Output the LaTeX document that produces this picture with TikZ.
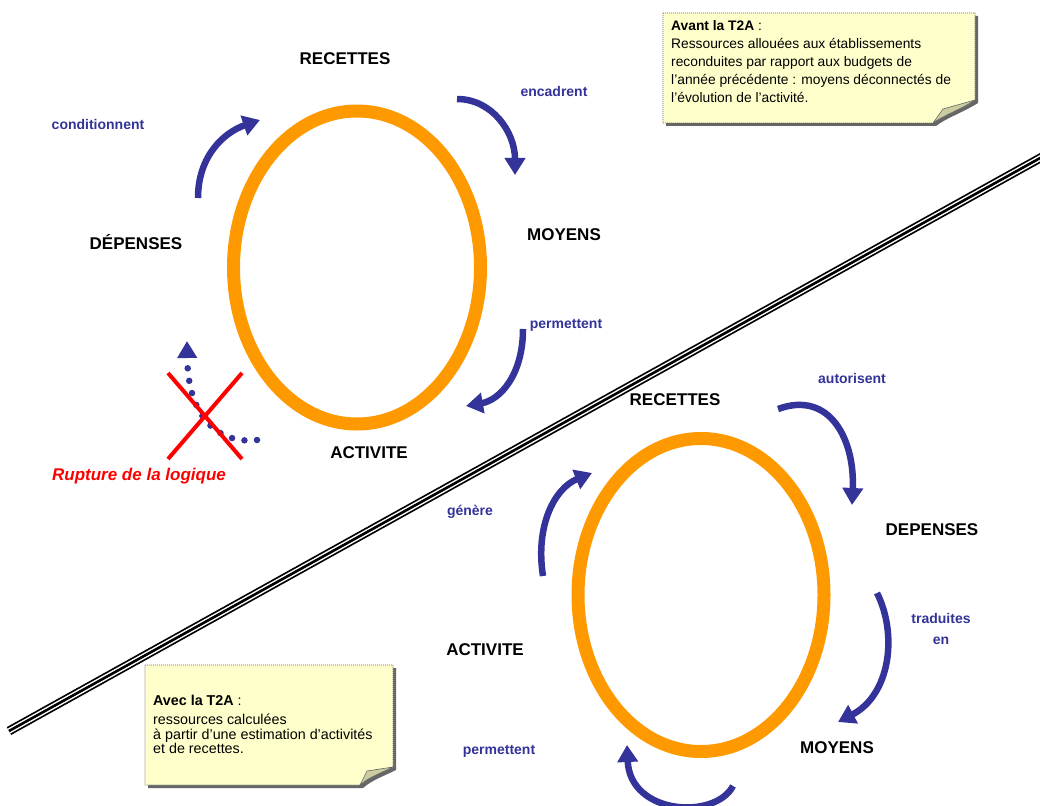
\documentclass[tikz,border=0pt]{standalone}
\usepackage{fontspec}
\setmainfont{Liberation Sans}
\usetikzlibrary{arrows.meta}
\definecolor{ringorange}{RGB}{255,153,0}
\definecolor{flowblue}{RGB}{51,51,153}
\definecolor{noteyellow}{RGB}{255,255,204}
\definecolor{flapfill}{RGB}{204,204,160}
\begin{document}
\begin{tikzpicture}[x=1pt,y=-1pt,
  lab/.style={font=\fontsize{17}{20}\selectfont\bfseries, inner sep=0pt, anchor=base},
  verb/.style={font=\fontsize{14}{21}\selectfont\bfseries, text=flowblue, inner sep=0pt, anchor=base},
  flow/.style={draw=flowblue, line width=6.5pt, -{Triangle[length=17pt,width=20pt]}},
  ring/.style={draw=ringorange, line width=13pt},
  notebox/.style={fill=noteyellow, draw=black!60, line width=0.6pt, dash pattern=on 1pt off 1pt},
  noteshadow/.style={fill=black!60},
  flap/.style={fill=flapfill, draw=black!60, line width=0.6pt},
  notetext/.style={inner sep=0pt, anchor=north west, align=left},
  cross/.style={draw=red, line width=4pt},
]
\useasboundingbox (0,0) rectangle (1040,805);
\fill[white] (0,0) rectangle (1040,805);
\clip (0,0) rectangle (1040,805);

% ---------- separating line ----------
\coordinate (dl) at (9,731);
\coordinate (dr) at (1060,147);
\draw[line width=9pt] (dl) -- (dr);
\draw[white, line width=5.5pt] (dl) -- (dr);
\draw[line width=2.6pt] (dl) -- (dr);

% ---------- top note ----------
\path[noteshadow] (666,16) -- (978,16) -- (978,103) .. controls (962,113) and (946,118) .. (936,126) -- (666,126) -- cycle;
\path[notebox] (663,13) -- (975,13) -- (975,100) .. controls (960,110) and (944,115) .. (933,123) -- (663,123) -- cycle;
\path[flap] (933,123) -- (943,109) -- (975,100) .. controls (960,110) and (944,115) .. (933,123) -- cycle;
\node[notetext, font=\fontsize{13.8}{18}\selectfont] (avant) at (671,20.5)
  {\textbf{Avant la T2A} :\\
   Ressources allouées aux établissements\\
   reconduites par rapport aux budgets de\\
   l’année précédente : moyens déconnectés de\\
   l’évolution de l’activité.};

% ---------- bottom note ----------
\path[noteshadow] (148,668) -- (396,668) -- (396,770) .. controls (384,776) and (372,780) .. (363,788) -- (148,788) -- cycle;
\path[notebox] (145,665) -- (393,665) -- (393,767) .. controls (381,773) and (369,777) .. (360,785) -- (145,785) -- cycle;
\path[flap] (360,785) -- (367,771) -- (393,767) .. controls (381,773) and (369,777) .. (360,785) -- cycle;
\node[notetext, font=\fontsize{14.3}{14.8}\selectfont] (avec) at (153,695)
  {\textbf{Avec la T2A} :\\[4pt]
   ressources calculées\\
   à partir d’une estimation d’activités\\
   et de recettes.};

% ---------- top cycle ----------
\coordinate (c1) at (357,267.5);
\draw[ring] (c1) ellipse [x radius=123.5pt, y radius=156.5pt];

\node[lab] (rec1) at (345,65) {RECETTES};
\node[lab] (dep1) at (136,249) {DÉPENSES};
\node[lab] (moy1) at (564,240) {MOYENS};
\node[lab] (act1) at (369,458) {ACTIVITE};

\node[verb] (cond) at (98,130) {conditionnent};
\node[verb] (enca) at (554,97) {encadrent};
\node[verb] (perm1) at (566,328) {permettent};

\coordinate (a1s) at (198,198); \coordinate (a1e) at (260,120);
\draw[flow] (a1s) .. controls (198,155) and (225,132) .. (a1e);
\coordinate (a2s) at (457,99); \coordinate (a2e) at (515,175);
\draw[flow] (a2s) .. controls (492,99) and (515,132) .. (a2e);
\coordinate (a3s) at (523,329); \coordinate (a3e) at (466,406);
\draw[flow] (a3s) .. controls (523,375) and (500,400) .. (a3e);

% broken logic
\coordinate (bs) at (257,440); \coordinate (be) at (187,341);
\draw[flowblue, line width=6.5pt, line cap=round, dash pattern=on 0pt off 12.6pt,
      -{Triangle[length=17pt,width=19pt]}]
  (bs) .. controls (225,444) and (188,425) .. (be);
\coordinate (x1a) at (168,373); \coordinate (x1b) at (242,459);
\coordinate (x2a) at (242,373); \coordinate (x2b) at (168,459);
\draw[cross] (x1a) -- (x1b);
\draw[cross] (x2a) -- (x2b);
\node[lab, text=red, font=\fontsize{17}{20}\selectfont\bfseries\itshape] (rupt) at (139,480) {Rupture de la logique};

% ---------- bottom cycle ----------
\coordinate (c2) at (701,595);
\draw[ring] (c2) ellipse [x radius=123pt, y radius=156.5pt];

\node[lab] (rec2) at (675,405) {RECETTES};
\node[lab] (dep2) at (932,535) {DEPENSES};
\node[lab] (moy2) at (837,753) {MOYENS};
\node[lab] (act2) at (485,655) {ACTIVITE};

\node[verb] (auto) at (852,383) {autorisent};
\node[verb] (gene) at (470,515) {génère};
\node[verb, anchor=north, align=center] (trad) at (941,613) {traduites\\en};
\node[verb] (perm2) at (499,754) {permettent};

\coordinate (b1s) at (778,409); \coordinate (b1e) at (852,505);
\draw[flow] (b1s) .. controls (830,390) and (855,440) .. (b1e);
\coordinate (b2s) at (877,593); \coordinate (b2e) at (838,722);
\draw[flow] (b2s) .. controls (898,635) and (890,695) .. (b2e);
\coordinate (b3s) at (733,786); \coordinate (b3e) at (627,745);
\draw[flow] (b3s) .. controls (715,820) and (630,815) .. (b3e);
\coordinate (b4s) at (543,576); \coordinate (b4e) at (592,473);
\draw[flow] (b4s) .. controls (535,525) and (555,488) .. (b4e);
\end{tikzpicture}
\end{document}
